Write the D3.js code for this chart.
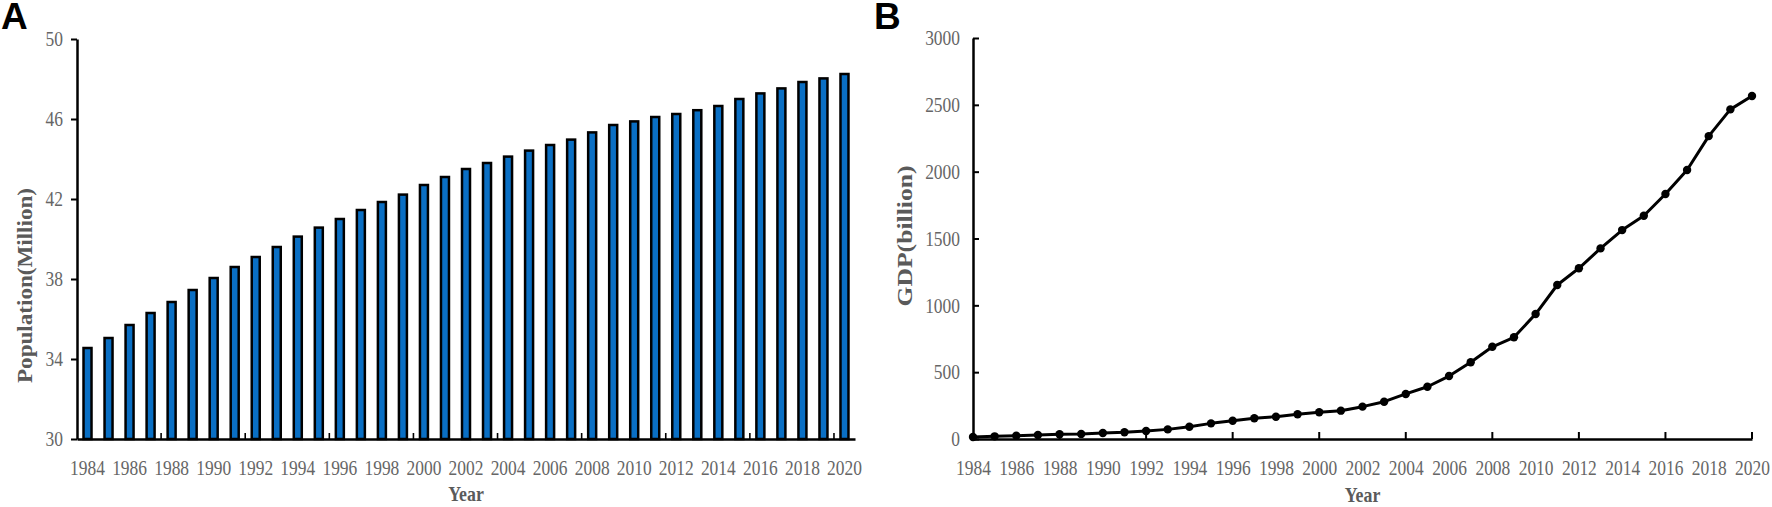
<!DOCTYPE html>
<html>
<head>
<meta charset="utf-8">
<script src="https://cdn.jsdelivr.net/npm/d3@7/dist/d3.min.js"></script>
<style>
  html, body { margin: 0; padding: 0; background: #fff; }
  svg { display: block; }
</style>
</head>
<body>
<svg id="chart" width="1772" height="507"></svg>
<script>
const years = d3.range(1984, 2021);
const population = [34.55, 35.05, 35.7, 36.3, 36.85, 37.45, 38.05, 38.6, 39.1, 39.6,
  40.12, 40.57, 41.0, 41.45, 41.85, 42.22, 42.7, 43.1, 43.5, 43.8,
  44.12, 44.42, 44.7, 44.97, 45.33, 45.7, 45.88, 46.1, 46.25, 46.44,
  46.65, 47.0, 47.28, 47.53, 47.85, 48.03, 48.25];
const gdp = [15, 20, 25, 30, 36, 38, 45, 50, 60, 72,
  92, 117, 137, 155, 167, 185, 200, 212, 242, 279,
  337, 391, 471, 574, 690, 761, 935, 1152, 1277, 1426,
  1563, 1670, 1833, 2012, 2266, 2466, 2566];
const popTicks = [30, 34, 38, 42, 46, 50];
const gdpTicks = [0, 500, 1000, 1500, 2000, 2500, 3000];
const yearLabels = d3.range(1984, 2021, 2);
const yearMarks = d3.range(1988, 2021, 4);

const SERIF = '"Liberation Serif", "Times New Roman", serif';
const SANS = '"Liberation Sans", Arial, sans-serif';
const GRAY = '#666666';
const TITLEGRAY = '#5a5a5a';

const svg = d3.select('#chart');

function squeeze(sel, f) {
  sel.each(function () {
    const w = this.getComputedTextLength();
    this.setAttribute('textLength', w * f);
    this.setAttribute('lengthAdjust', 'spacingAndGlyphs');
  });
}

function styleAxis(g) {
  g.select('.domain').attr('stroke', '#000').attr('stroke-width', 2.5);
  g.selectAll('.tick line').attr('stroke', '#000').attr('stroke-width', 2);
  g.selectAll('.tick text')
    .attr('fill', GRAY)
    .attr('font-family', SERIF)
    .attr('font-size', 21);
  squeeze(g.selectAll('.tick text'), 0.83);
}

// ---------------- Panel A ----------------
const A = { left: 77, right: 855, top: 39, bottom: 439 };
const xA = d3.scaleBand().domain(years).range([A.left, A.right]).padding(0);
const yA = d3.scaleLinear().domain([30, 50]).range([A.bottom, A.top]);

svg.append('text').attr('x', 1).attr('y', 29)
  .attr('font-family', SANS).attr('font-weight', 'bold').attr('font-size', 37)
  .attr('fill', '#000').text('A');

const barW = 8;
svg.append('g').selectAll('rect').data(years).join('rect')
  .attr('x', (d) => xA(d) + xA.bandwidth() / 2 - barW / 2)
  .attr('y', (d, i) => yA(population[i]))
  .attr('width', barW)
  .attr('height', (d, i) => yA(30) - yA(population[i]))
  .attr('fill', '#0a6fc4')
  .attr('stroke', '#000')
  .attr('stroke-width', 2.5);

const gAy = svg.append('g').attr('transform', `translate(${A.left},0)`)
  .call(d3.axisLeft(yA).tickValues(popTicks).tickSizeInner(6).tickSizeOuter(0).tickPadding(8));
styleAxis(gAy);

const gAx = svg.append('g').attr('transform', `translate(0,${A.bottom})`)
  .call(d3.axisBottom(xA).tickValues(yearLabels).tickSize(0).tickPadding(21));
styleAxis(gAx);

svg.append('g').selectAll('line').data(yearMarks).join('line')
  .attr('x1', (d) => xA(d)).attr('x2', (d) => xA(d))
  .attr('y1', A.bottom).attr('y2', A.bottom - 6)
  .attr('stroke', '#000').attr('stroke-width', 1.6);

svg.append('text')
  .attr('transform', `translate(32,${(188 + 383) / 2}) rotate(-90)`)
  .attr('text-anchor', 'middle')
  .attr('font-family', SERIF).attr('font-weight', 'bold').attr('font-size', 21)
  .attr('fill', TITLEGRAY)
  .attr('textLength', 195).attr('lengthAdjust', 'spacingAndGlyphs')
  .text('Population(Million)');

const tAx = svg.append('text')
  .attr('x', (A.left + A.right) / 2).attr('y', 501)
  .attr('text-anchor', 'middle')
  .attr('font-family', SERIF).attr('font-weight', 'bold').attr('font-size', 21)
  .attr('fill', TITLEGRAY).text('Year');
squeeze(tAx, 0.85);

// ---------------- Panel B ----------------
const B = { left: 973, right: 1752, top: 38, bottom: 439 };
const xB = d3.scaleLinear().domain([1984, 2020]).range([B.left, B.right]);
const yB = d3.scaleLinear().domain([0, 3000]).range([B.bottom, B.top]);

svg.append('text').attr('x', 874).attr('y', 29)
  .attr('font-family', SANS).attr('font-weight', 'bold').attr('font-size', 37)
  .attr('fill', '#000').text('B');

const gBy = svg.append('g').attr('transform', `translate(${B.left},0)`)
  .call(d3.axisLeft(yB).tickValues(gdpTicks).tickFormat(d3.format('d'))
    .tickSizeInner(-6).tickSizeOuter(0).tickPadding(13));
styleAxis(gBy);

const gBx = svg.append('g').attr('transform', `translate(0,${B.bottom})`)
  .call(d3.axisBottom(xB).tickValues(yearLabels).tickFormat(d3.format('d')).tickSize(0).tickPadding(21));
styleAxis(gBx);

svg.append('g').selectAll('line').data(yearMarks).join('line')
  .attr('x1', (d) => xB(d)).attr('x2', (d) => xB(d))
  .attr('y1', B.bottom).attr('y2', B.bottom - 7)
  .attr('stroke', '#000').attr('stroke-width', 2);

const line = d3.line().x((d, i) => xB(years[i])).y((d) => yB(d));
svg.append('path').datum(gdp)
  .attr('d', line)
  .attr('fill', 'none').attr('stroke', '#000').attr('stroke-width', 3)
  .attr('stroke-linejoin', 'round');

svg.append('g').selectAll('circle').data(gdp).join('circle')
  .attr('cx', (d, i) => xB(years[i]))
  .attr('cy', (d) => yB(d))
  .attr('r', 4.2)
  .attr('fill', '#000');

svg.append('text')
  .attr('transform', `translate(912,236) rotate(-90)`)
  .attr('text-anchor', 'middle')
  .attr('font-family', SERIF).attr('font-weight', 'bold').attr('font-size', 21)
  .attr('fill', TITLEGRAY)
  .attr('textLength', 141).attr('lengthAdjust', 'spacingAndGlyphs')
  .text('GDP(billion)');

const tBx = svg.append('text')
  .attr('x', (B.left + B.right) / 2).attr('y', 502)
  .attr('text-anchor', 'middle')
  .attr('font-family', SERIF).attr('font-weight', 'bold').attr('font-size', 21)
  .attr('fill', TITLEGRAY).text('Year');
squeeze(tBx, 0.85);
</script>
</body>
</html>
